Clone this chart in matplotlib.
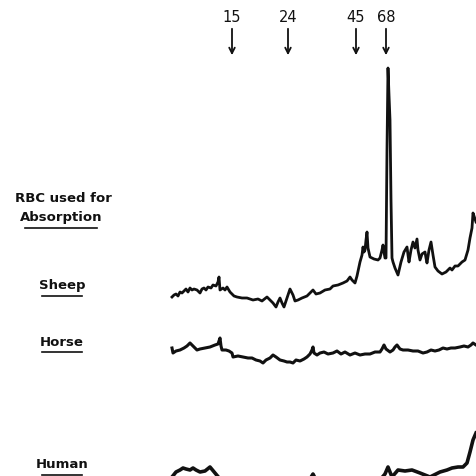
import matplotlib.pyplot as plt

# densitometer scans after absorption with RBC
sheep_x = [172, 174, 176, 178, 180, 182, 184, 186, 188, 190, 192, 194, 197, 200, 202, 204, 206, 208, 211, 213,
           216, 218, 219, 220, 223, 225, 227, 230, 234, 237, 242, 247, 253, 258, 262, 267, 270, 273, 276, 278,
           280, 282, 284, 287, 290, 293, 295, 298, 302, 307, 310, 313, 316, 320, 325, 330, 333, 338, 343, 347,
           350, 352, 355, 357, 360, 362, 363, 364, 365, 366, 367, 368, 370, 374, 378, 380, 382, 383, 384, 385,
           386, 387, 388, 389, 390, 391, 392, 393, 395, 398, 401, 404, 407, 408, 409, 411, 413, 415, 417, 418,
           420, 422, 425, 426, 427, 429, 431, 433, 435, 438, 442, 446, 450, 452, 455, 458, 462, 465, 468, 470,
           472, 473, 474, 476]
sheep_y = [297, 295, 294, 296, 292, 293, 291, 289, 292, 288, 290, 289, 290, 293, 289, 288, 290, 287, 288, 285,
           286, 282, 277, 290, 288, 290, 287, 292, 296, 297, 298, 298, 300, 299, 301, 297, 300, 303, 307, 302,
           298, 303, 307, 298, 289, 295, 301, 300, 298, 296, 293, 290, 294, 293, 290, 289, 286, 285, 283, 281,
           277, 280, 283, 276, 262, 255, 247, 252, 250, 240, 232, 248, 257, 259, 260, 258, 250, 245, 252, 258,
           258, 150, 68, 95, 120, 200, 258, 262, 268, 275, 262, 252, 247, 255, 262, 250, 242, 248, 239, 250,
           260, 254, 252, 258, 263, 250, 242, 255, 267, 271, 274, 272, 268, 270, 266, 266, 262, 260, 250, 238,
           228, 213, 216, 222]

horse_x = [172, 173, 176, 180, 184, 187, 190, 193, 197, 200, 205, 210, 215, 218, 220, 221, 222, 226, 229, 232,
           233, 238, 243, 248, 252, 256, 260, 263, 266, 270, 273, 276, 280, 284, 287, 290, 293, 296, 300, 304,
           307, 310, 312, 313, 314, 317, 320, 324, 328, 333, 337, 341, 345, 350, 355, 360, 365, 370, 375, 380,
           382, 384, 386, 390, 393, 395, 397, 400, 403, 408, 413, 418, 423, 427, 431, 435, 439, 443, 447, 451,
           455, 460, 464, 468, 471, 473, 476]
horse_y = [348, 353, 351, 350, 348, 346, 343, 346, 350, 349, 348, 347, 345, 344, 338, 346, 350, 350, 351, 353,
           357, 356, 357, 358, 358, 360, 361, 363, 360, 358, 355, 357, 360, 361, 362, 362, 363, 360, 361, 359,
           357, 354, 350, 347, 353, 355, 353, 352, 354, 353, 351, 354, 352, 355, 353, 355, 354, 354, 352, 352,
           349, 345, 349, 352, 350, 347, 345, 349, 350, 350, 351, 351, 353, 352, 350, 351, 350, 348, 349, 348,
           348, 347, 346, 347, 345, 343, 345]

human_x = [172, 176, 180, 183, 186, 190, 193, 196, 200, 205, 210, 220, 240, 260, 280, 300, 310, 313, 316, 340,
           360, 380, 385, 388, 392, 398, 405, 412, 420, 430, 440, 447, 452, 458, 463, 467, 470, 473, 476]
human_y = [477, 472, 470, 468, 469, 470, 468, 470, 472, 471, 467, 479, 481, 480, 481, 481, 479, 474, 480, 481,
           480, 480, 474, 467, 477, 470, 471, 470, 473, 477, 472, 470, 468, 467, 467, 463, 452, 440, 433]

marker_mw = ["15", "24", "45", "68"]
marker_pos = [232, 288, 356, 386]

trace_names = ["Sheep", "Horse", "Human"]
label_rows = [286, 342, 465]

fig = plt.figure(figsize=(4.76, 4.76), dpi=100)
ax = fig.add_axes([0, 0, 1, 1])
ax.set_xlim(0, 476)
ax.set_ylim(476, 0)
ax.axis("off")

ink = "#111111"
ax.plot(sheep_x, sheep_y, color=ink, lw=2.0, solid_joinstyle="round")
ax.plot(horse_x, horse_y, color=ink, lw=2.2, solid_joinstyle="round")
ax.plot(human_x, human_y, color=ink, lw=2.6, solid_joinstyle="round")

# molecular weight markers with arrows
for lab, xp in zip(marker_mw, marker_pos):
    ax.text(xp, 17, lab, ha="center", va="center", fontsize=10.5, color=ink)
    ax.annotate("", xy=(xp, 58), xytext=(xp, 26),
                arrowprops=dict(arrowstyle="->", color=ink, lw=1.3, mutation_scale=10))

# heading on the left
ax.text(63, 198, "RBC used for", ha="center", va="center", fontsize=9.5, fontweight="bold", color=ink)
ax.text(61, 217, "Absorption", ha="center", va="center", fontsize=9.5, fontweight="bold", color=ink)
ax.plot([25, 97], [228, 228], color=ink, lw=1.2)

for name, yr in zip(trace_names, label_rows):
    ax.text(62, yr, name, ha="center", va="center", fontsize=9.5, fontweight="bold", color=ink)
    ax.plot([42, 82], [yr + 10, yr + 10], color=ink, lw=1.2)

fig.savefig("out.png", dpi=100, facecolor="white")
